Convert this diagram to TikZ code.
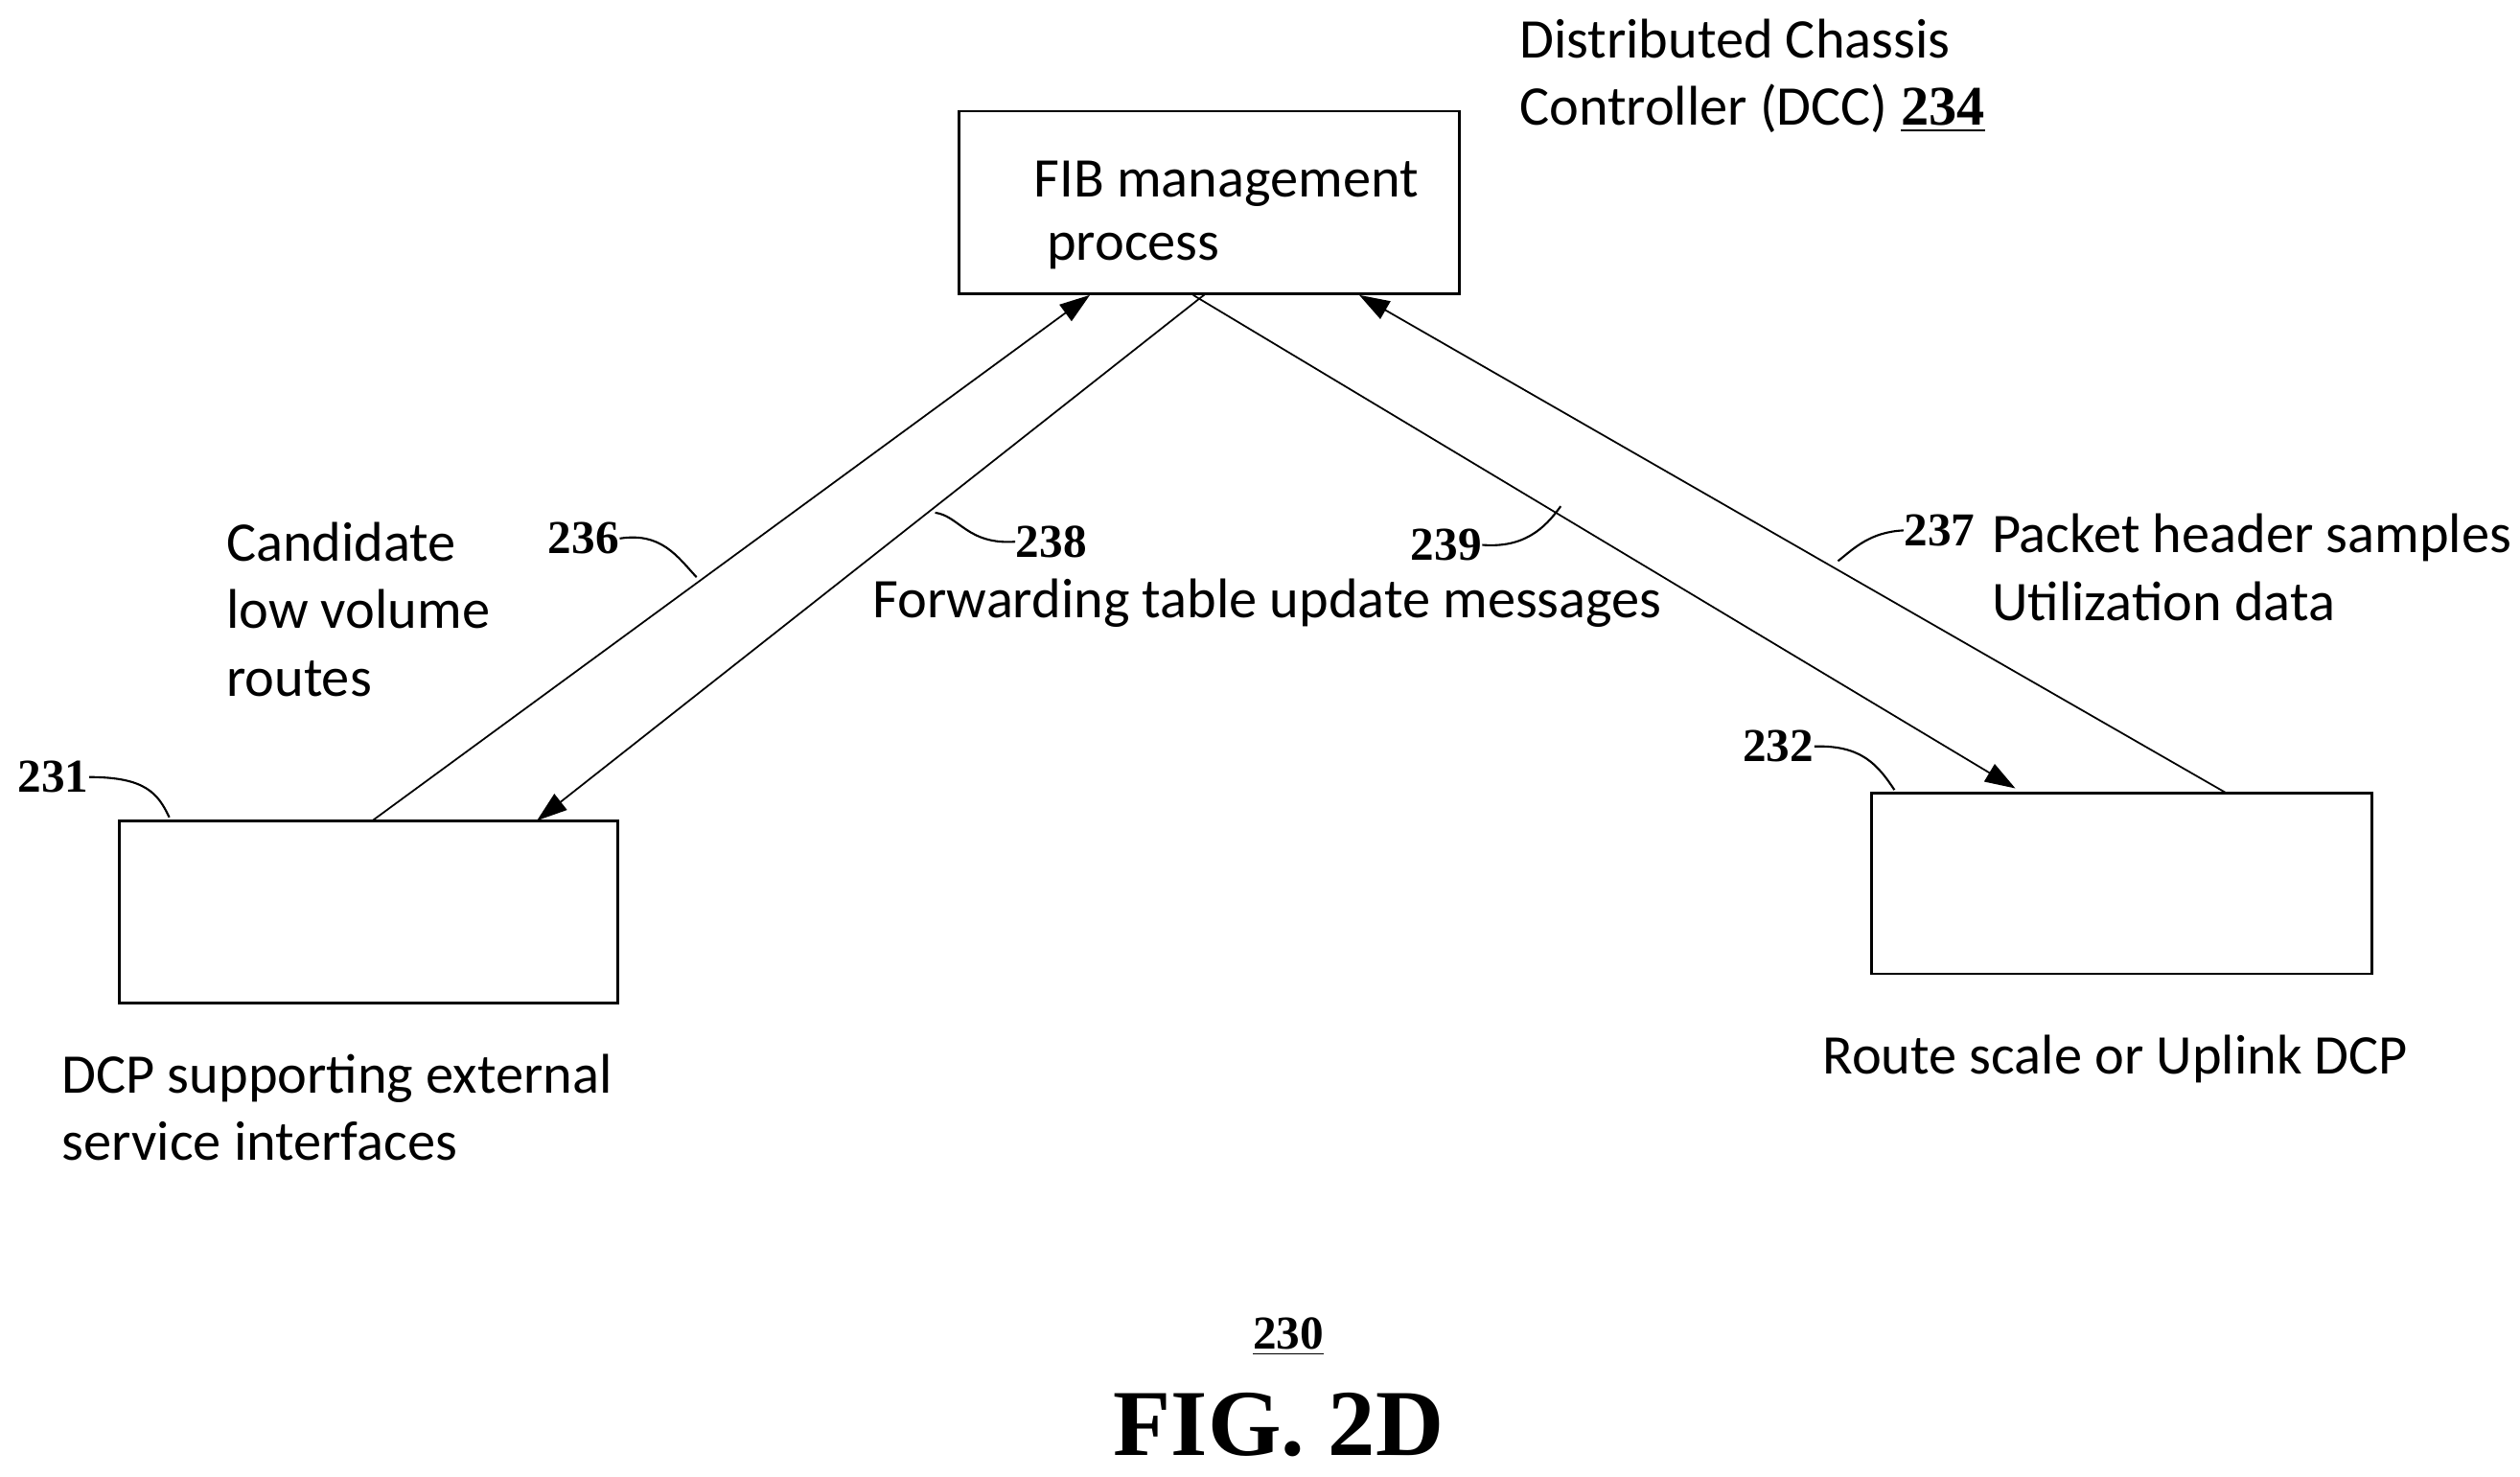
\documentclass[tikz,border=0pt]{standalone}
\usepackage{fontspec}
\setmainfont{Carlito}
\newfontfamily\numf{Liberation Serif}
\usetikzlibrary{arrows.meta}
\begin{document}
\begin{tikzpicture}[x=0.01682cm,y=-0.01682cm,
  box/.style={draw,line width=0.8pt},
  arr/.style={draw,line width=0.5pt,-{Triangle[length=9pt,width=6pt]}},
  lead/.style={draw,line width=0.6pt},
  txt/.style={font=\fontsize{16.6}{20}\selectfont,inner sep=0pt,align=left},
  num/.style={font=\fontsize{14}{16}\selectfont\numf\bfseries,inner sep=0pt}]
\useasboundingbox (0,0) rectangle (1563,916);
\draw[box] (595,69) rectangle (905,182);
\draw[box] (74,509) rectangle (383,622);
\draw[box] (1161,492) rectangle (1471,604);
\coordinate (fa) at (676,183); \coordinate (fb) at (748,182);
\coordinate (fc) at (740,183); \coordinate (fd) at (843,183);
\coordinate (la) at (231,509); \coordinate (lb) at (333,509);
\coordinate (ra) at (1250,489); \coordinate (rb) at (1381,492);
\draw[arr] (la) -- (fa);
\draw[arr] (fb) -- (lb);
\draw[arr] (fc) -- (ra);
\draw[arr] (rb) -- (fd);
\node[txt,anchor=west] (fib1) at (641,114) {FIB management};
\node[txt,anchor=west] (fib2) at (649,156) {process};
\node[txt,anchor=west] (dcc) at (942,47) {Distributed Chassis\\Controller (DCC) {\numf\bfseries\underline{234}}};
\node[txt,anchor=west] (cand) at (140,378) {Candidate\\low volume\\routes};
\node[txt] (fwd) at (786,374) {Forwarding table update messages};
\node[txt,anchor=west] (pkt) at (1235,352) {Packet header samples\\Utilization data};
\node[txt,anchor=west] (dcp) at (38,687) {DCP supporting external\\service interfaces};
\node[txt] (rs) at (1312,657) {Route scale or Uplink DCP};
\node[num] (n236) at (362,334) {236};
\node[num] (n238) at (652,336) {238};
\node[num] (n239) at (897,338) {239};
\node[num] (n237) at (1203,329) {237};
\node[num] (n231) at (33,482) {231};
\node[num] (n232) at (1103,463) {232};
\draw[lead] (n236.east) .. controls (410,330) and (420,345) .. (432,358);
\draw[lead] (n238.west) .. controls (600,338) and (595,320) .. (580,318);
\draw[lead] (n239.east) .. controls (945,340) and (958,328) .. (968,314);
\draw[lead] (n237.west) .. controls (1160,330) and (1150,340) .. (1140,348);
\draw[lead] (n231.east) .. controls (90,482) and (98,492) .. (105,507);
\draw[lead] (n232.east) .. controls (1155,462) and (1165,475) .. (1175,490);
\node[num] (n230) at (799,829) {\underline{230}};
\node[num,font=\fontsize{28}{30}\selectfont\numf\bfseries] (fig) at (793,884) {FIG. 2D};
\end{tikzpicture}
\end{document}
